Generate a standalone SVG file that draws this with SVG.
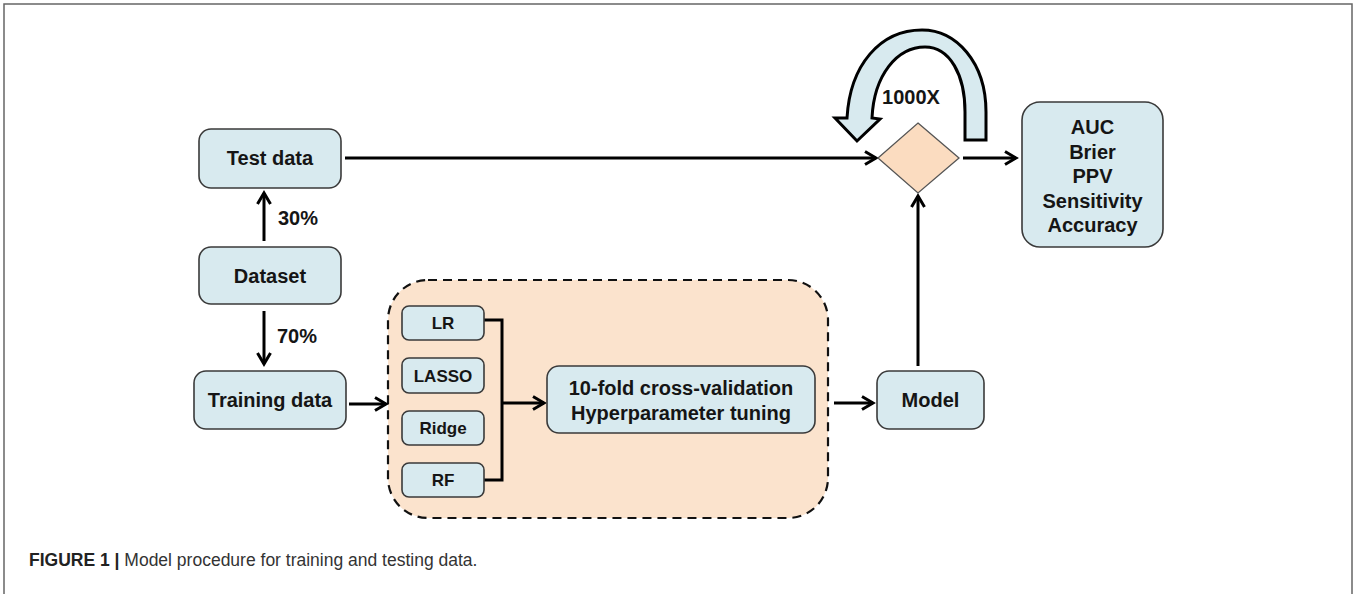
<svg xmlns="http://www.w3.org/2000/svg" width="1359" height="594" viewBox="0 0 1359 594">
<style>
.box{fill:#d8eaef;stroke:#3a3a3a;stroke-width:1.6}
.lbl{font-family:"Liberation Sans",Arial,sans-serif;font-weight:bold;font-size:20px;fill:#151515;text-anchor:middle}
.sm{font-size:17px}
.con{fill:none;stroke:#000;stroke-width:3}
</style>
<defs>
<marker id="ah" markerUnits="userSpaceOnUse" markerWidth="18" markerHeight="18" viewBox="0 0 18 18" refX="15" refY="9" orient="auto">
<path d="M4,2.5 L15,9 L4,15.5" fill="none" stroke="#000" stroke-width="3" stroke-linejoin="miter"/>
</marker>
</defs>
<rect width="1359" height="594" fill="#fff"/>
<path d="M4,594 L4,4 L1352,4 L1352,594" fill="none" stroke="#666" stroke-width="1.5"/>

<g id="training-box">
<rect x="388" y="280" width="440" height="238" rx="40" fill="#fbe3cd" stroke="#111" stroke-width="2.2" stroke-dasharray="9,6"/>
</g>

<g id="connectors">
<path class="con" d="M345,158 L876,158" marker-end="url(#ah)"/>
<path class="con" d="M264,241 L264,193" marker-end="url(#ah)"/>
<path class="con" d="M264,311 L264,364" marker-end="url(#ah)"/>
<path class="con" d="M349,404 L386,404" marker-end="url(#ah)"/>
<path class="con" d="M484,320 L502,320 L502,480 L484,480"/>
<path class="con" d="M502,403 L544,403" marker-end="url(#ah)"/>
<path class="con" d="M834,403 L873,403" marker-end="url(#ah)"/>
<path class="con" d="M918,366 L918,196" marker-end="url(#ah)"/>
<path class="con" d="M963,158 L1016,158" marker-end="url(#ah)"/>
</g>

<g id="loop">
<path d="M986,140 L986,112 C986,62 956,30 922,30 C880,30 850,65 847,118 L835,118 L857,141 L880,119 L872,118 C874,75 897,47 925,47 C950,47 965,75 965,112 L965,140 Z" fill="#d8eaef" stroke="#000" stroke-width="3" stroke-linejoin="miter"/>
<text class="lbl" x="911" y="104">1000X</text>
</g>

<g id="test-data">
<rect class="box" x="199" y="129" width="142" height="59" rx="12"/>
<text class="lbl" x="270" y="165">Test data</text>
</g>
<text class="lbl" x="298" y="225">30%</text>
<g id="dataset">
<rect class="box" x="199" y="247" width="142" height="57" rx="12"/>
<text class="lbl" x="270" y="283">Dataset</text>
</g>
<text class="lbl" x="297" y="343">70%</text>
<g id="training-data">
<rect class="box" x="194" y="371" width="152" height="58" rx="12"/>
<text class="lbl" x="270" y="407">Training data</text>
</g>

<g id="lr">
<rect class="box" x="402" y="306" width="82" height="34" rx="7"/>
<text class="lbl sm" x="443" y="329">LR</text>
</g>
<g id="lasso">
<rect class="box" x="402" y="358" width="82" height="35" rx="7"/>
<text class="lbl sm" x="443" y="381.5">LASSO</text>
</g>
<g id="ridge">
<rect class="box" x="402" y="411" width="82" height="34" rx="7"/>
<text class="lbl sm" x="443" y="434">Ridge</text>
</g>
<g id="rf">
<rect class="box" x="402" y="463" width="82" height="34" rx="7"/>
<text class="lbl sm" x="443" y="486">RF</text>
</g>

<g id="cv">
<rect class="box" x="547" y="366" width="268" height="67" rx="12"/>
<text class="lbl" x="681" y="395">10-fold cross-validation</text>
<text class="lbl" x="681" y="420">Hyperparameter tuning</text>
</g>

<g id="model">
<rect class="box" x="877" y="371" width="107" height="58" rx="12"/>
<text class="lbl" x="930.5" y="407">Model</text>
</g>

<g id="decision">
<polygon points="918,123 959,158 918,193 878,158" fill="#fbdcc0" stroke="#555" stroke-width="1.3"/>
</g>

<g id="metrics">
<rect class="box" x="1022" y="102" width="141" height="145" rx="18"/>
<text class="lbl" x="1092.5" y="134">AUC</text>
<text class="lbl" x="1092.5" y="158.5">Brier</text>
<text class="lbl" x="1092.5" y="183">PPV</text>
<text class="lbl" x="1092.5" y="207.5">Sensitivity</text>
<text class="lbl" x="1092.5" y="232">Accuracy</text>
</g>

<text x="29" y="566" font-family="'Liberation Sans',Arial,sans-serif" font-size="17.5" fill="#333"><tspan font-weight="bold" fill="#222">FIGURE 1 | </tspan>Model procedure for training and testing data.</text>
</svg>
